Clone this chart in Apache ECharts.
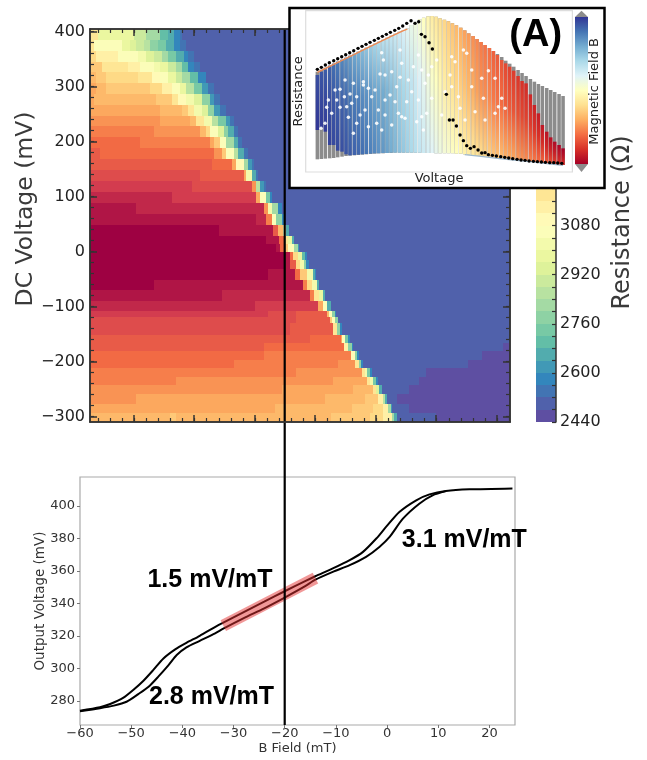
<!DOCTYPE html>
<html><head><meta charset="utf-8">
<style>html,body{margin:0;padding:0;background:#fff}#c{width:647px;height:760px}</style>
<script src="https://cdn.jsdelivr.net/npm/echarts@6/dist/echarts.min.js"></script>
</head><body><div id="c"></div>
<script>
// ---- heat map: edges of the DC-voltage rows (mV)
const rowEdgesMv=[405,384.5,365,345,327,306,287,266,247,228,208,188,168,148,129,109,89,69,48,28,14,-1,-15,-31,-51,-70,-90,-108,-119,-129,-152,-167,-181,-197,-212,-228,-243,-259,-277,-293,-310];
// each row: end of run on the field-step axis (0..210), resistance level, ...
const heatRows=[
[4,18,22,13,28,11,35,9,39,6,42,5,45,3,46,2],
[2,18,16,15,20,13,23,12,27,11,30,10,34,8,38,7,42,5,45,3,48,2],
[3,19,14,17,24,15,28,14,32,12,36,11,39,9,43,7,47,5,49,3,52,2],
[6,20,19,18,25,17,32,15,35,14,39,13,43,11,46,9,49,6,52,3,55,2],
[3,21,8,20,24,19,31,18,35,16,39,15,43,13,46,11,50,9,54,6,58,3],
[3,22,8,21,30,20,36,19,41,17,45,15,48,13,52,10,56,7,59,4,62,2],
[2,22,33,21,41,20,44,18,48,16,52,14,56,12,60,8,62,4,65,2],
[35,22,46,21,49,20,52,18,56,14,59,12,62,8,65,4,68,2],
[35,23,50,22,53,21,57,18,61,14,64,10,68,7,70,4,72,2],
[32,24,55,23,58,21,60,19,64,15,67,12,69,8,72,5,74,2],
[25,25,60,24,62,22,65,20,68,15,72,9,74,5,76,2],
[5,26,62,25,66,23,68,20,72,15,74,10,77,5,79,2],
[61,26,71,25,73,22,77,16,79,9,81,4,82,2],
[55,27,77,26,78,22,81,14,83,5,84,2],
[51,28,81,27,83,23,85,10,87,4,88,2],
[41,29,83,28,85,22,88,15,90,7,91,3],
[23,30,87,29,89,23,91,14,94,9,96,3],
[83,30,88,29,91,24,93,15,96,8,97,3],
[64.5,31,91.7,30,94,26,96.5,21,98,15,99.5,5],
[88,31,94.5,30,97,25,99,18,101,13,102,5],
[93,31,95,30,97,25,99,20,102,15,104,9,104.5,4],
[97.5,31,100,30,101.7,25,104,19,106,13,107.5,6,108.5,3],
[97.5,31,100,30,103,26,105,19,107,14,108,8,109.7,3],
[89,31,102.5,30,105,25,108.3,20,111.3,14,112.5,5,113,3],
[32,31,106.3,30,108.3,24,110.8,19,113.3,14,114.7,5],
[66,30,110,29,112.2,24,114.7,18,116.3,13,117.5,5],
[82.5,29,114,28,116.7,22,118.7,15,120.3,5],
[89,28,103,27,118.5,26,119.7,21,121,15,122.5,8,123,3],
[103,27,120,26,121,20,122.7,15,124,8],
[100,27,121.5,26,123.3,18,125,8,126,3],
[110,26,125.3,25,126,22,127.5,15,129,7,130,3],
[87,26,127,25,129.2,17,130.8,8,131.5,3,206.3,1,210,0],
[87,25,130.3,24,132.5,16,133.7,8,134.5,3,195.8,1,210,0],
[72,25,124,24,132.5,23,134.7,18,135.7,8,136.5,3,189.2,1,210,0],
[103,24,135.8,23,137.5,18,138.7,14,140,7,141,3,168,1,210,0],
[43,24,121.7,23,138.3,22,140,18,141.7,14,143,7,144,3,164.7,1,210,0],
[96,23,131.7,22,141.7,21,143,18,144.7,12,146,5,159.7,1,210,0],
[23,23,117.5,22,137.5,21,144,20,146.7,17,147.5,10,148.5,5,153.3,1,210,0],
[92.5,22,130.8,21,141.7,20,146.7,19,149.2,17,150.3,9,151,4,159.7,1,210,0],
[40,21,43,20,120.3,21,140,20,146.7,19,150.8,17,152,9,153.3,5,173,1,210,0]
];
const heatMajorTicks=[21.9,52.1,82.4,112.6,142.9,173.1,203.4];
const heatMinorTicks=[3.9,9.9,16,22,28,34.1,40.1,46.2,52.2,58.3,64.4,70.4,76.5,82.5,88.6,94.6,100.7,106.7,112.8,118.8,124.9,130.9,137,143,149.1,155.2,161.2,167.3,173.3,179.4,185.4,191.5,197.5,203.6,209.6];
const voltageTicks=[-300,-200,-100,0,100,200,300,400];
const voltageMinor=[-300,-280,-260,-240,-220,-200,-180,-160,-140,-120,-100,-80,-60,-40,-20,0,20,40,60,80,100,120,140,160,180,200,220,240,260,280,300,320,340,360,380,400];
// ---- colour bar
const resistanceLevels=[2440,2480,2520,2560,2600,2640,2680,2720,2760,2800,2840,2880,2920,2960,3000,3040,3080,3120,3160,3200,3240,3280,3320,3360,3400,3440,3480,3520,3560,3600,3640,3680,3720];
const resistanceLabels=[2440,2600,2760,2920,3080];
// ---- hysteresis loop
const upperB=[-60,-56.1,-54.1,-51.5,-49.6,-47.6,-45.7,-43.7,-41.4,-39.2,-36.6,-33.3,-32,-28,-24,-20,-16,-14,-10.6,-7.3,-4.7,-2.1,-0.2,2.4,5.7,8.3,11.5,16.1,24.5];
const upperV=[274.1,276.2,278.2,282.1,286.8,292.5,299,306.2,311.8,315.8,320.1,326.1,328.2,334.7,341.1,347.5,353.7,356.7,361.5,366.6,371.7,379.9,387,396.2,403.4,407,409.1,410.1,410.7];
const lowerB=[-60,-56.1,-53.4,-50.9,-48.6,-46.6,-44.7,-42.7,-41.1,-39.2,-36.6,-33.6,-32,-28,-24,-20,-16,-14,-10.6,-7.3,-4.1,-1.5,0.5,3.1,6.3,8.9,11.5];
const lowerV=[273.8,275.6,277.2,279.6,284.3,288.8,295,302.1,308.3,313,317,321.6,324.5,331,337,343.6,350.6,354.6,359.4,363.5,368.6,374.7,380.9,392.1,401.3,406.4,409];
const bandB=[-32,-14];
const bandV=[326.4,355.6];
const markerB=-20;
const fieldTicks=[-60,-50,-40,-30,-20,-10,0,10,20];
const outputTicks=[280,300,320,340,360,380,400];
const slopeNotes=[{name:'1.5 mV/mT',value:[-34.6,354.3]},{name:'2.8 mV/mT',value:[-34.3,282.7]},{name:'3.1 mV/mT',value:[15.1,378.8]}];
// ---- inset: one column of points per voltage step
const insetX=[97,109,121,134,146,158,171,183,195,208,220,232,244,257,269,281,294,306,318,330,343,355,367,379,391,404,416,429,441,453,465,478,490,502,514,527,539,551,564,576,588,600,613,625,637,650,662,674,686,699,711,723,736,748,760,772,785,797,809,822,834];
const insetTop=[215,209,203,197,191,185,179,173,167,161,155,149,143,137,131,125,119,113,107,101,95,90,85,75,65,58,53,49,48,50,55,59,64,70,76,83,91,100,108,117,126,135,144,153,162,171,182,191,200,210,219,228,237,245,252,258,264,270,276,282,288];
const insetColourTop=[225,215,209,197,191,185,179,173,167,161,155,149,143,137,131,125,119,113,107,101,95,90,85,75,65,58,53,49,48,50,55,59,64,70,76,83,91,100,108,117,126,135,144,153,165,180,190,200,212,228,243,250,283,315,340,375,395,412,425,435,445];
const insetColourBottom=[390,385,395,435,435,452,455,463,466,465,464,463,462,461,460,460,459,459,458,458,458,458,458,458,458,458,459,459,459,460,460,460,460,460,461,461,463,464,465,467,468,469,470,472,474,475,476,478,479,480,481,483,484,486,487,488,490,491,492,494,495];
const insetBottom=[478,477,476,475,474,472,470,468,467,466,465,464,463,462,461,460,460,459,459,458,458,458,458,458,458,458,459,459,459,460,460,460,460,460,461,461,463,464,465,467,468,469,470,472,474,475,476,478,479,480,481,483,484,486,487,488,490,491,492,494,495];
const insetFieldTop=[.04,.05,.06,.07,.09,.11,.13,.15,.17,.19,.21,.23,.25,.27,.29,.31,.33,.34,.35,.36,.37,.39,.41,.43,.45,.47,.50,.53,.56,.58,.60,.62,.64,.66,.68,.70,.72,.73,.75,.76,.78,.79,.80,.82,.83,.84,.86,.87,.88,.89,.90,.91,.92,.93,.94,.95,.96,.97,.98,.99,1];
const insetFieldMid=[.02,.03,.03,.04,.05,.06,.07,.08,.10,.11,.12,.14,.15,.16,.18,.19,.20,.22,.24,.26,.28,.30,.32,.34,.36,.39,.42,.45,.48,.50,.53,.56,.58,.60,.62,.64,.66,.68,.70,.72,.74,.75,.76,.78,.79,.80,.82,.83,.84,.85,.86,.87,.88,.89,.90,.91,.92,.93,.94,.95,.96];
const insetFieldBottom=[0,.01,.01,.02,.03,.03,.04,.05,.06,.07,.08,.09,.10,.12,.13,.15,.16,.18,.20,.22,.24,.26,.28,.30,.32,.34,.36,.38,.40,.42,.44,.46,.47,.49,.50,.52,.54,.56,.57,.59,.60,.62,.63,.65,.66,.67,.69,.70,.71,.73,.74,.75,.77,.78,.80,.81,.83,.85,.87,.89,.90];
const insetBlack=[[97,208],[109,202],[121,195],[133,188],[146,182],[158,176],[170,170],[182,164],[194,158],[206,152],[219,145],[231,139],[243,133],[255,127],[268,121],[280,115],[292,109],[304,103],[316,97],[329,91],[341,85],[353,78],[365,70],[378,62],[390,70],[401,65],[409,103],[420,110],[432,128],[442,147],[484,283],[493,360],[504,360],[514,378],[525,405],[535,422],[545,437],[556,445],[567,440],[579,450],[590,459],[600,458],[610,464],[622,466],[634,468],[647,470],[659,472],[671,474],[683,476],[696,478],[708,480],[720,481],[732,483],[745,484],[757,485],[769,486],[781,487],[794,488],[806,488],[818,489],[830,490]];
const insetGaps=[[150,270],[165,268],[178,290],[195,282],[200,310],[125,322],[140,340],[120,370],[108,385],[165,322],[190,352],[205,400],[235,255],[250,265],[290,158],[295,180],[285,222],[300,225],[320,215],[345,150],[350,190],[345,232],[350,350],[360,355],[300,300],[270,270],[260,290],[235,245],[240,330],[225,345],[300,345],[330,305],[315,285],[275,370],[250,380],[320,375],[400,165],[410,210],[385,200],[420,250],[430,225],[440,295],[400,300],[380,275],[365,305],[410,350],[395,365],[415,390],[425,340],[440,200],[455,180],[500,170],[510,185],[535,150],[545,160],[560,210],[590,235],[610,212],[560,260],[520,290],[525,325],[540,360],[570,335],[600,360],[630,340],[640,320],[595,295],[660,325],[630,235],[650,295],[495,225],[500,260],[470,345],[480,275],[130,300],[155,300],[185,320],[215,290],[215,370],[280,330],[335,260],[370,240],[340,340],[290,390],[205,250],[180,240]];
const insetCapX=[97,134,171,208,244,281,318,355,367];
const insetCapY=[217,199,181,163,145,127,109,92,87];
const insetRimX=[539,588,637,686,736,785,834];
const insetRimY=[464,469,475,480,485,491,496];
const insetTitle=[{name:'(A)',value:[752,105]}];

const spectralAnchors=['#5e4fa2','#3288bd','#66c2a5','#abdda4','#e6f598','#ffffbf','#fee08b','#fdae61','#f46d43','#d53e4f','#9e0142'];
const rdylbuAnchors=['#313695','#4575b4','#74add1','#abd9e9','#e0f3f8','#ffffbf','#fee090','#fdae61','#f46d43','#d73027','#a50026'];
const levelColour=i=>echarts.color.lerp(i/31,spectralAnchors);
const fieldColour=t=>echarts.color.lerp(t,rdylbuAnchors);

const heatCells=[];
heatRows.forEach((row,r)=>{
  let start=0;
  for(let i=0;i<row.length;i+=2){heatCells.push([start,row[i],rowEdgesMv[r],rowEdgesMv[r+1],row[i+1]]);start=row[i];}
  if(start<210)heatCells.push([start,210,rowEdgesMv[r],rowEdgesMv[r+1],1]);
});
const barCells=resistanceLevels.slice(0,-1).map((v,i)=>[0,1,resistanceLevels[i+1],v,i]);
const insetCols=insetX.map((x,i)=>[x,insetTop[i],insetColourTop[i],insetColourBottom[i],insetBottom[i],insetFieldTop[i],insetFieldMid[i],insetFieldBottom[i]]);

function snappedRect(api,x0,x1,y0,y1){
  const a=api.coord([x0,y0]),b=api.coord([x1,y1]);
  const l=Math.round(a[0]),t=Math.round(a[1]);
  return {x:l,y:t,width:Math.round(b[0])-l,height:Math.round(b[1])-t};
}
function renderCell(p,api){
  return {type:'rect',shape:snappedRect(api,api.value(0),api.value(1),api.value(2),api.value(3)),style:{fill:levelColour(api.value(4))}};
}
function renderInsetCol(p,api){
  const x=api.value(0),hw=5.3;
  const rr=(a,b)=>{const p0=api.coord([x-hw,a]),p1=api.coord([x+hw,b]);return {x:p0[0],y:p0[1],width:p1[0]-p0[0],height:p1[1]-p0[1]};};
  return {type:'group',children:[
    {type:'rect',shape:rr(api.value(1),api.value(4)),style:{fill:'#8c8c8c'}},
    {type:'rect',shape:rr(api.value(2),api.value(3)),style:{fill:{type:'linear',x:0,y:0,x2:0,y2:1,colorStops:[
      {offset:0,color:fieldColour(api.value(5))},{offset:.45,color:fieldColour(api.value(6))},{offset:1,color:fieldColour(api.value(7))}]}}}
  ]};
}
function renderInsetBar(p,api){
  const c=(x,y)=>api.coord([x,y]);
  const a=c(0,1),b=c(1,0);
  return {type:'group',children:[
    {type:'polygon',shape:{points:[c(0,1),c(1,1),c(.5,1.043)]},style:{fill:'#8c8c8c'}},
    {type:'polygon',shape:{points:[c(0,0),c(1,0),c(.5,-.054)]},style:{fill:'#8c8c8c'}},
    {type:'rect',shape:{x:a[0],y:a[1],width:b[0]-a[0],height:b[1]-a[1]},style:{fill:{type:'linear',x:0,y:0,x2:0,y2:1,colorStops:rdylbuAnchors.map((col,i)=>({offset:i/10,color:col}))}}}
  ]};
}
const spine={show:true,onZero:false,lineStyle:{color:'#333',width:1.5}};
const minus=v=>String(v).replace('-','\u2212');
function heatAxis(o){
  return Object.assign({type:'value',gridIndex:0,z:4,axisLine:spine,splitLine:{show:false},axisLabel:{show:false}},o);
}
const tick=(vals,len)=>({show:true,inside:true,length:len,customValues:vals,lineStyle:{color:'#333',width:len>5?1.5:1.2}});
const hidden=(g,min,max,extra)=>Object.assign({type:'value',gridIndex:g,min,max,show:false},extra||{});

const xAxis=[
 heatAxis({min:0,max:210,position:'bottom',axisTick:tick(heatMajorTicks,7)}),            //0
 heatAxis({min:0,max:210,position:'bottom',axisTick:tick(heatMinorTicks,4)}),            //1
 heatAxis({min:0,max:210,position:'top',axisTick:tick(heatMajorTicks,7)}),               //2
 heatAxis({min:0,max:210,position:'top',axisTick:tick(heatMinorTicks,4)}),               //3
 hidden(1,0,1),                                                                          //4 colour bar
 {type:'value',gridIndex:2,min:-60,max:25,position:'bottom',splitLine:{show:false},axisLine:{show:false,onZero:false},
  axisTick:{show:true,length:3,customValues:fieldTicks,lineStyle:{color:'#777'}},
  axisLabel:{customValues:fieldTicks,formatter:minus,fontSize:13,color:'#333',margin:2,fontFamily:'DejaVu Sans'},
  name:'B Field (mT)',nameLocation:'middle',nameGap:17,nameMoveOverlap:false,nameTextStyle:{fontSize:13,color:'#333',fontFamily:'DejaVu Sans'}}, //5
 hidden(3,-60,25),                                                                       //6 marker overlay
 hidden(4,0,1),                                                                          //7 inset box
 {type:'value',gridIndex:5,min:62,max:862,z:7,splitLine:{show:false},axisLine:{show:false,onZero:false},axisTick:{show:false},axisLabel:{show:false},
  name:'Voltage',nameLocation:'middle',nameGap:0.5,nameMoveOverlap:false,nameTextStyle:{fontSize:13,color:'#222',fontFamily:'DejaVu Sans'}}, //8
 hidden(6,0,1)                                                                           //9
];
const yAxis=[
 heatAxis({min:-310,max:405,position:'left',axisTick:tick(voltageTicks,7),
   axisLabel:{show:true,customValues:voltageTicks,formatter:minus,fontSize:16,color:'#222',margin:5,fontFamily:'DejaVu Sans'},
   name:'DC Voltage (mV)',nameLocation:'middle',nameGap:52,nameMoveOverlap:false,nameRotate:90,nameTextStyle:{fontSize:23.5,color:'#3a3a3a',fontFamily:'DejaVu Sans',padding:[0,0,0,33]}}), //0
 heatAxis({min:-310,max:405,position:'left',axisTick:tick(voltageMinor,4)}),             //1
 heatAxis({min:-310,max:405,position:'right',axisTick:tick(voltageTicks,7)}),            //2
 heatAxis({min:-310,max:405,position:'right',axisTick:tick(voltageMinor,4)}),            //3
 {type:'value',gridIndex:1,min:2440,max:3720,position:'right',z:4,splitLine:{show:false},axisLine:spine,
   axisTick:tick(resistanceLevels,4),
   axisLabel:{customValues:resistanceLabels,formatter:v=>String(v),fontSize:16,color:'#222',margin:4,fontFamily:'DejaVu Sans'},
   name:'Resistance (\u03a9)',nameLocation:'middle',nameGap:55,nameMoveOverlap:false,nameRotate:90,nameTextStyle:{fontSize:24,color:'#3a3a3a',fontFamily:'DejaVu Sans',padding:[0,0,0,6]}}, //4
 {type:'value',gridIndex:2,min:265.3,max:417.7,position:'left',splitLine:{show:false},axisLine:{show:false,onZero:false},
   axisTick:{show:true,length:3,customValues:outputTicks,lineStyle:{color:'#777'}},
   axisLabel:{customValues:outputTicks,fontSize:13,color:'#333',margin:5,fontFamily:'DejaVu Sans'},
   name:'Output Voltage (mV)',nameLocation:'middle',nameGap:33,nameMoveOverlap:false,nameRotate:90,nameTextStyle:{fontSize:13.5,color:'#333',fontFamily:'DejaVu Sans'}}, //5
 hidden(3,0,1),                                                                          //6
 hidden(4,0,1),                                                                          //7
 {type:'value',gridIndex:5,min:32,max:516,inverse:true,z:7,splitLine:{show:false},axisLine:{show:false,onZero:false},axisTick:{show:false},axisLabel:{show:false},
  name:'Resistance',nameLocation:'middle',nameGap:1,nameMoveOverlap:false,nameRotate:90,nameTextStyle:{fontSize:13,color:'#222',fontFamily:'DejaVu Sans'}}, //8
 {type:'value',gridIndex:6,min:-.054,max:1.043,position:'right',z:7,splitLine:{show:false},axisLine:{show:false,onZero:false},axisTick:{show:false},axisLabel:{show:false},
  name:'Magnetic Field B',nameLocation:'middle',nameGap:0.5,nameMoveOverlap:false,nameRotate:90,nameTextStyle:{fontSize:13,color:'#222',fontFamily:'DejaVu Sans'}} //9
];
const pair=(a,b)=>a.map((v,i)=>[v,b[i]]);
const bold={show:true,position:'inside',formatter:'{b}',fontFamily:'Liberation Sans',fontWeight:'bold',color:'#000'};
const series=[
 {type:'custom',xAxisIndex:0,yAxisIndex:0,z:2,renderItem:renderCell,data:heatCells,encode:{x:[0,1],y:[2,3]},silent:true},
 {type:'custom',xAxisIndex:4,yAxisIndex:4,z:2,renderItem:renderCell,data:barCells,encode:{x:[0,1],y:[2,3]},silent:true},
 {type:'line',xAxisIndex:5,yAxisIndex:5,z:2,data:pair(upperB,upperV),symbol:'none',smooth:.25,lineStyle:{color:'#000',width:2}},
 {type:'line',xAxisIndex:5,yAxisIndex:5,z:2,data:pair(lowerB,lowerV),symbol:'none',smooth:.25,lineStyle:{color:'#000',width:2}},
 {type:'line',xAxisIndex:5,yAxisIndex:5,z:3,data:pair(bandB,bandV),symbol:'none',lineStyle:{color:'rgba(228,50,50,0.5)',width:12,cap:'butt'}},
 {type:'scatter',xAxisIndex:5,yAxisIndex:5,z:4,symbolSize:0,itemStyle:{opacity:1},data:slopeNotes,label:Object.assign({fontSize:25},bold),silent:true},
 {type:'line',xAxisIndex:6,yAxisIndex:6,z:3,data:[[markerB,0],[markerB,1]],symbol:'none',lineStyle:{color:'#000',width:2.2}},
 {type:'custom',xAxisIndex:8,yAxisIndex:8,z:8,renderItem:renderInsetCol,data:insetCols,encode:{x:0,y:[1,4]},silent:true},
 {type:'line',xAxisIndex:8,yAxisIndex:8,z:9,data:pair(insetCapX,insetCapY),symbol:'none',lineStyle:{color:'#ef8a52',width:1.4}},
 {type:'line',xAxisIndex:8,yAxisIndex:8,z:9,data:pair(insetRimX,insetRimY),symbol:'none',lineStyle:{color:'#9db8cc',width:1.3}},
 {type:'scatter',xAxisIndex:8,yAxisIndex:8,z:9,data:insetGaps,symbolSize:3.5,itemStyle:{color:'#fff',opacity:.9},silent:true},
 {type:'scatter',xAxisIndex:8,yAxisIndex:8,z:10,data:insetBlack,symbolSize:3.4,itemStyle:{color:'#000',opacity:1},silent:true},
 {type:'scatter',xAxisIndex:8,yAxisIndex:8,z:11,symbolSize:0,itemStyle:{opacity:1},data:insetTitle,label:Object.assign({fontSize:38},bold),silent:true},
 {type:'custom',xAxisIndex:9,yAxisIndex:9,z:8,renderItem:renderInsetBar,data:[[0,0]],encode:{x:0,y:1},silent:true}
];
const chart=echarts.init(document.getElementById('c'),null,{renderer:'canvas'});
const tight={outerBoundsMode:'none',containLabel:false};
chart.setOption({
 animation:false,
 backgroundColor:'#fff',
 textStyle:{fontFamily:'DejaVu Sans'},
 grid:[
  {left:90,top:29,width:420,height:393},
  {left:536,top:29,width:20,height:393},
  {left:80,top:477,width:435,height:248,show:true,borderColor:'#aaa',borderWidth:1.2,backgroundColor:'#fff'},
  {left:80,top:29,width:435,height:696},
  {left:289.5,top:8,width:315,height:180,show:true,z:5,backgroundColor:'#fff',borderColor:'#000',borderWidth:2.5},
  {left:305.7,top:10.7,width:266.7,height:161.3,show:true,z:6,backgroundColor:'#fff',borderColor:'#ddd',borderWidth:1.2},
  {left:575,top:10.7,width:13,height:161.3}
 ].map(g=>Object.assign(g,tight)),
 xAxis,yAxis,series
});
</script></body></html>
